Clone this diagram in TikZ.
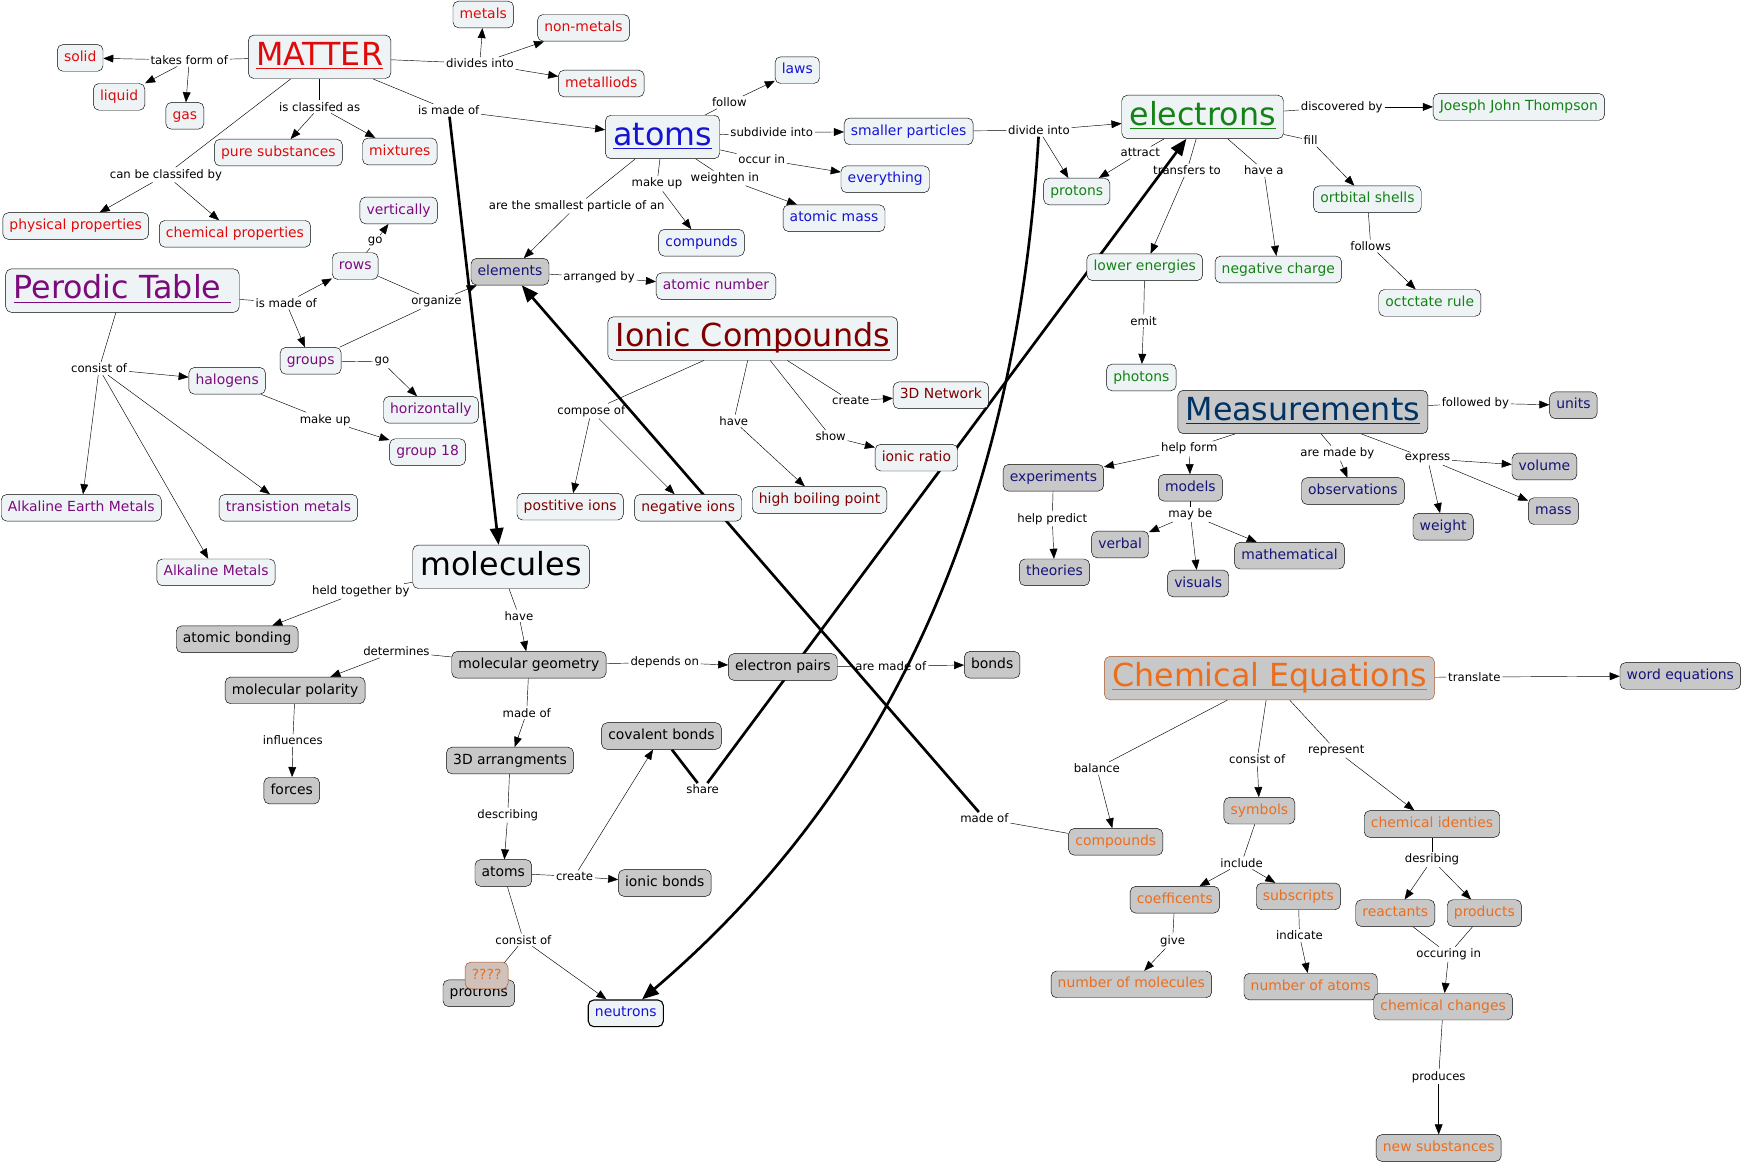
\documentclass[tikz,border=0pt]{standalone}
\usepackage{fontspec}
\setmainfont{DejaVu Sans}
\usetikzlibrary{arrows.meta,backgrounds}
\definecolor{cfill}{RGB}{238,244,246}
\definecolor{gfill}{RGB}{200,200,200}
\definecolor{cred}{RGB}{225,10,10}
\definecolor{cblue}{RGB}{20,20,210}
\definecolor{cgreen}{RGB}{20,130,20}
\definecolor{cpurple}{RGB}{125,10,125}
\definecolor{cdred}{RGB}{128,0,0}
\definecolor{cnavy}{RGB}{20,20,120}
\definecolor{cmeas}{RGB}{0,50,100}
\definecolor{corange}{RGB}{235,110,30}
\definecolor{cbrown}{RGB}{170,80,30}
\definecolor{qfill}{RGB}{208,194,186}
\newcommand\titleline[1]{\setbox0\hbox{#1}\rlap{\rule[-3.5pt]{\wd0}{1.2pt}}\box0}
\begin{document}
\begin{tikzpicture}[x=1pt,y=-1pt,>={Triangle[length=9pt,width=7pt]},
  concept/.style={draw,rounded corners=5pt,fill=cfill,inner xsep=6pt,inner ysep=0pt,minimum height=24pt,text height=9.5pt,text depth=3pt,font=\fontsize{12.5}{14}\selectfont},
  grey/.style={concept,fill=gfill},
  title/.style={concept,minimum height=39pt,text height=21pt,text depth=6pt,inner xsep=7pt,font=\fontsize{28.5}{32}\selectfont},
  mat/.style={concept,text=cred},
  per/.style={concept,text=cpurple},
  atm/.style={concept,text=cblue},
  ele/.style={concept,text=cgreen},
  ion/.style={concept,text=cdred},
  mea/.style={grey,text=cnavy},
  equ/.style={grey,text=corange},
  lnk/.style={inner sep=1.5pt,font=\fontsize{10.5}{12}\selectfont},
  fat/.style={line width=2.4pt},
  fatarr/.style={line width=2.4pt,-{Triangle[length=15pt,width=12pt]}}]
\useasboundingbox (0,0) rectangle (1568,1046);

\node[title,text=cred] (matter) at (287,51) {\titleline{MATTER}};
\node[mat] (solid) at (72,52) {solid};
\node[mat] (liquid) at (107,87) {liquid};
\node[mat] (gas) at (166,104) {gas};
\node[mat] (metals) at (434,13) {metals};
\node[mat] (nonmetals) at (524,25) {non-metals};
\node[mat] (metalloids) at (540,75) {metalliods};
\node[mat] (puresub) at (250,137) {pure substances};
\node[mat] (mixtures) at (359,136) {mixtures};
\node[mat] (physprop) at (68,203) {physical properties};
\node[mat] (chemprop) at (211,210) {chemical properties};

\node[title,text=cpurple] (ptable) at (110,261) {\titleline{Perodic Table\ }};
\node[per] (vert) at (358,189) {vertically};
\node[per] (rows) at (319,239) {rows};
\node[per] (groups) at (279,324) {groups};
\node[per] (halogens) at (204,342) {halogens};
\node[per] (horiz) at (387,368) {horizontally};
\node[per] (grp18) at (384,406) {group 18};
\node[per] (alkearth) at (73,456) {Alkaline Earth Metals};
\node[per] (transmet) at (259,456) {transistion metals};
\node[per] (alkmet) at (194,514) {Alkaline Metals};
\node[per] (atnum) at (643,257) {atomic number};

\node[title,text=cblue] (atoms) at (595,123) {\titleline{atoms}};
\node[atm] (laws) at (716,63) {laws};
\node[atm] (smallpart) at (816,118) {smaller particles};
\node[atm] (everything) at (795,161) {everything};
\node[atm] (atmass) at (749,196) {atomic mass};
\node[atm] (compunds) at (630,218) {compunds};
\node[grey,text=cnavy] (elements) at (458,244) {elements};

\node[title,text=cgreen] (electrons) at (1080,105) {\titleline{electrons}};
\node[ele] (jjt) at (1364,96) {Joesph John Thompson};
\node[ele] (protons) at (967,172) {protons};
\node[ele] (orbshells) at (1228,179) {ortbital shells};
\node[ele] (lowen) at (1028,240) {lower energies};
\node[ele] (negch) at (1148,242) {negative charge};
\node[ele] (octet) at (1284,272) {octctate rule};
\node[ele] (photons) at (1025,339) {photons};

\node[title,text=cdred] (ionic) at (676,304) {\titleline{Ionic Compounds}};
\node[ion] (network) at (845,355) {3D Network};
\node[ion] (ionratio) at (823,411) {ionic ratio};
\node[ion] (boiling) at (736,449) {high boiling point};
\node[ion] (posions) at (512,455) {postitive ions};
\node[ion] (negions) at (618,456) {negative ions};

\node[title] (molecules) at (450,509) {molecules};
\node[grey] (atbond) at (213,574) {atomic bonding};
\node[grey] (molgeo) at (475,597) {molecular geometry};
\node[grey] (molpol) at (265,620) {molecular polarity};
\node[grey] (epairs) at (703,599) {electron pairs};
\node[grey] (bonds) at (891,597) {bonds};
\node[grey] (forces) at (262,710) {forces};
\node[grey] (covbonds) at (594,661) {covalent bonds};
\node[grey] (arrang) at (458,683) {3D arrangments};
\node[grey] (atomsb) at (452,784) {atoms};
\node[grey] (ionbonds) at (597,793) {ionic bonds};
\node[grey] (protrons) at (430,892) {protrons};
\node[concept,fill=qfill,draw=cbrown,text=corange] (unknown) at (437,876) {????};
\node[atm,line width=1pt] (neutrons) at (562,910) {neutrons};

\node[title,fill=gfill,text=cmeas] (meas) at (1170,370) {\titleline{Measurements}};
\node[mea] (units) at (1413,364) {units};
\node[mea] (experiments) at (946,429) {experiments};
\node[mea] (models) at (1069,438) {models};
\node[mea] (observations) at (1215,441) {observations};
\node[mea] (volume) at (1387,419) {volume};
\node[mea] (mass) at (1395,459) {mass};
\node[mea] (weight) at (1296,473) {weight};
\node[mea] (verbal) at (1006,489) {verbal};
\node[mea] (mathematical) at (1158,499) {mathematical};
\node[mea] (theories) at (947,514) {theories};
\node[mea] (visuals) at (1076,524) {visuals};
\node[mea] (wordeq) at (1509,607) {word equations};

\node[title,fill=gfill,draw=cbrown,text=corange] (chemeq) at (1140,609) {\titleline{Chemical Equations}};
\node[equ] (compounds) at (1002,756) {compounds};
\node[equ] (symbols) at (1131,728) {symbols};
\node[equ] (identies) at (1286,740) {chemical identies};
\node[equ] (coeff) at (1055,808) {coefficents};
\node[equ] (subscripts) at (1166,805) {subscripts};
\node[equ] (reactants) at (1253,820) {reactants};
\node[equ] (products) at (1333,820) {products};
\node[equ] (nummol) at (1016,884) {number of molecules};
\node[equ] (numatoms) at (1177,886) {number of atoms};
\node[equ] (changes) at (1296,904) {chemical changes};
\node[equ] (newsub) at (1292,1031) {new substances};

\foreach \n/\x/\y/\t in {ltakes/170/54/takes form of, ldivides/431/57/divides into,
  lclassas/287/96/is classifed as, lclassby/149/157/can be classifed by, lmadeof/403/99/is made of,
  lfollow/655/92/follow, lsubdiv/693/119/subdivide into, loccur/684/143/occur in,
  lweigh/651/160/weighten in, lmakeup/590/165/make up, lsmallest/518/185/are the smallest particle of an,
  ldivinto/933/117/divide into, ldisc/1205/96/discovered by, lfill/1177/126/fill,
  lattract/1024/137/attract, ltransfer/1066/153/transfers to, lhavea/1135/153/have a,
  lfollows/1231/221/follows, lemit/1027/288/emit, lptmade/257/272/is made of,
  lgo/337/217/go, lorganize/392/271/organize, lgoh/343/325/go, lconsist/89/331/consist of,
  lmakeupg/292/377/make up, larranged/538/249/arranged by, lcompose/531/369/compose of,
  lhave/659/378/have, lshow/746/392/show, lcreate/764/360/create, lionmade/884/735/made of,
  lheld/324/531/held together by, lhavem/466/553/have, ldeterm/356/585/determines,
  ldepends/597/595/depends on, lmadegeo/473/640/made of, lmadebonds/800/598/are made of,
  linfl/263/665/influences, ldescr/456/732/describing, lcreateb/516/787/create,
  lconsistb/470/844/consist of, lshare/631/709/share, lfollowed/1325/362/followed by,
  lhelpform/1068/403/help form, lmadeby/1201/407/are made by, lexpress/1282/412/express,
  lpredict/945/466/help predict, lmaybe/1069/462/may be, ltranslate/1324/608/translate,
  lbalance/985/690/balance, lconsistc/1129/682/consist of, lrepresent/1200/674/represent,
  linclude/1115/775/include, lgive/1053/845/give, lindicate/1167/840/indicate,
  ldesribing/1286/772/desribing, loccuring/1301/857/occuring in, lproduces/1292/967/produces}
  \node[lnk] (\n) at (\x,\y) {\t};

\begin{scope}[on background layer,line width=0.9pt]
\foreach \a/\b in {matter/ltakes, matter/ldivides, matter/lclassas, matter/lclassby, matter/lmadeof,
  atoms/lfollow, atoms/lsubdiv, atoms/loccur, atoms/lweigh, atoms/lmakeup, atoms/lsmallest,
  smallpart/ldivinto, electrons/ldisc, electrons/lfill, electrons/lattract, electrons/ltransfer,
  electrons/lhavea, orbshells/lfollows, lowen/lemit, ptable/lptmade, rows/lgo, rows/lorganize,
  groups/lorganize, groups/lgoh, ptable/lconsist, halogens/lmakeupg, elements/larranged,
  ionic/lcompose, ionic/lhave, ionic/lshow, ionic/lcreate, compounds/lionmade,
  molecules/lheld, molecules/lhavem, molgeo/ldeterm, molgeo/ldepends, molgeo/lmadegeo,
  epairs/lmadebonds, molpol/linfl, arrang/ldescr, atomsb/lcreateb, atomsb/lconsistb, lconsistb/protrons,
  meas/lfollowed, meas/lhelpform, meas/lmadeby, meas/lexpress, experiments/lpredict, models/lmaybe,
  chemeq/ltranslate, chemeq/lbalance, chemeq/lconsistc, chemeq/lrepresent, symbols/linclude,
  coeff/lgive, subscripts/lindicate, identies/ldesribing, reactants/loccuring, products/loccuring,
  changes/lproduces}
  \draw (\a) -- (\b);
\foreach \a/\b in {ltakes/solid, ltakes/liquid, ltakes/gas, ldivides/metals, ldivides/nonmetals,
  ldivides/metalloids, lclassas/puresub, lclassas/mixtures, lclassby/physprop, lclassby/chemprop,
  lmadeof/atoms, lfollow/laws, lsubdiv/smallpart, loccur/everything, lweigh/atmass, lmakeup/compunds,
  lsmallest/elements, ldivinto/electrons, ldivinto/protons, ldisc/jjt, lfill/orbshells, lattract/protons,
  ltransfer/lowen, lhavea/negch, lfollows/octet, lemit/photons, lptmade/rows, lptmade/groups,
  lgo/vert, lorganize/elements, lgoh/horiz, lconsist/halogens, lconsist/alkearth, lconsist/transmet,
  lconsist/alkmet, lmakeupg/grp18, larranged/atnum, lcompose/posions, lcompose/negions,
  lhave/boiling, lshow/ionratio, lcreate/network, lheld/atbond, lhavem/molgeo, ldeterm/molpol,
  ldepends/epairs, lmadegeo/arrang, lmadebonds/bonds, linfl/forces, ldescr/atomsb, lcreateb/ionbonds,
  lcreateb/covbonds, lconsistb/neutrons, lfollowed/units, lhelpform/experiments, lhelpform/models,
  lmadeby/observations, lexpress/volume, lexpress/weight, lexpress/mass, lpredict/theories,
  lmaybe/verbal, lmaybe/visuals, lmaybe/mathematical, ltranslate/wordeq, lbalance/compounds,
  lconsistc/symbols, lrepresent/identies, linclude/coeff, linclude/subscripts, lgive/nummol,
  lindicate/numatoms, ldesribing/reactants, ldesribing/products, loccuring/changes, lproduces/newsub}
  \draw[->] (\a) -- (\b);
\draw[fatarr] (lmadeof) -- (molecules);
\draw[fatarr] (lionmade) -- (elements);
\draw[fat] (covbonds) -- (lshare);
\draw[fatarr] (lshare) -- (electrons);
\draw[fatarr] (ldivinto) .. controls (915,420) and (820,690) .. (neutrons);
\end{scope}
\end{tikzpicture}
\end{document}
